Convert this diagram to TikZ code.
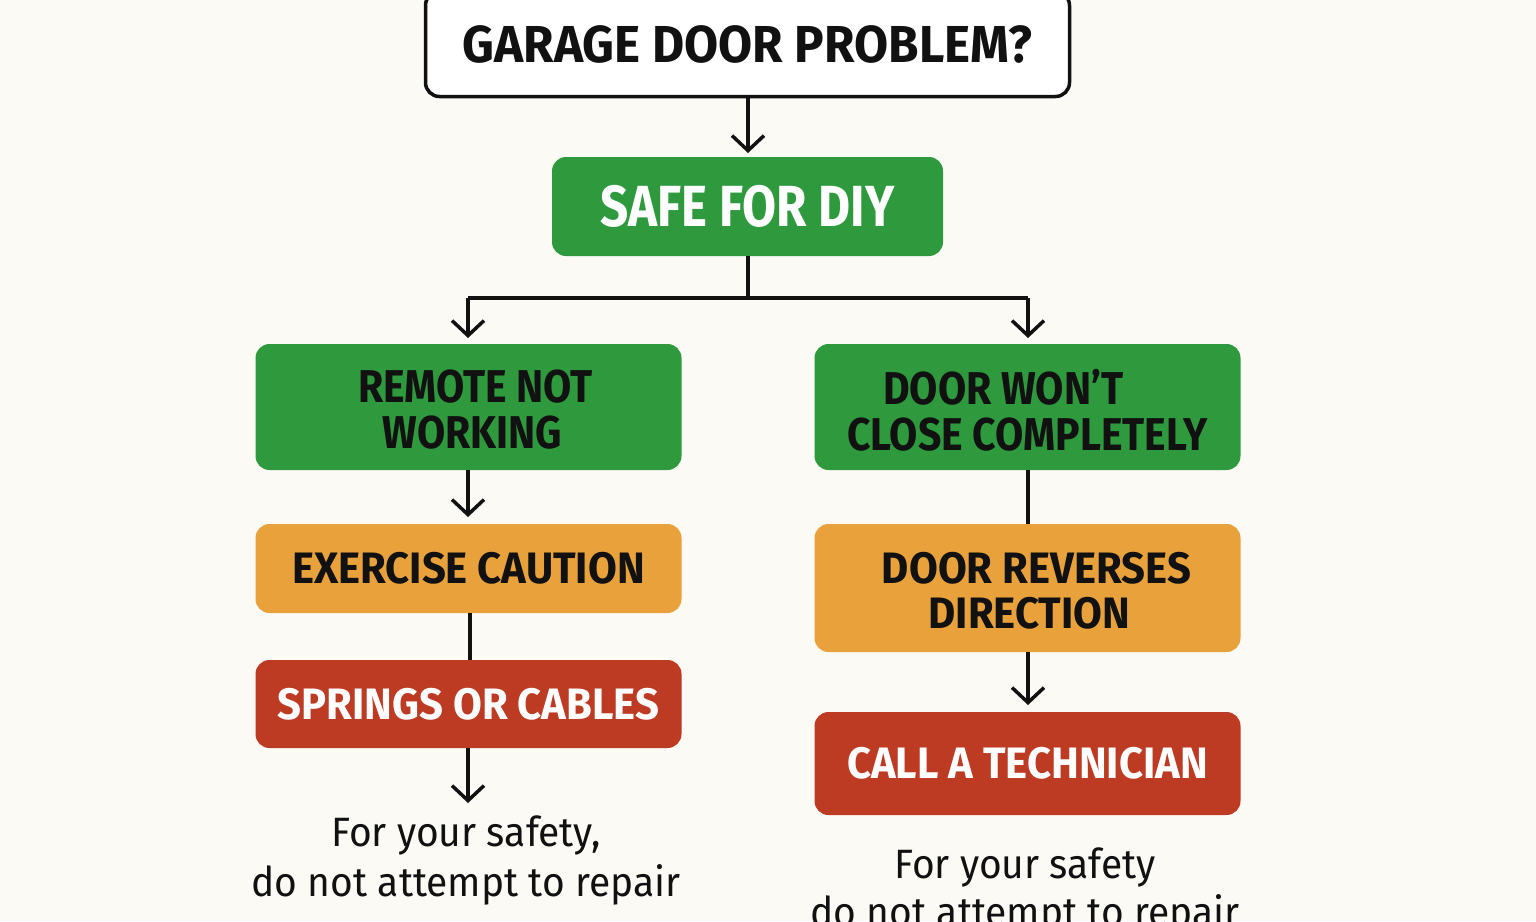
\documentclass[tikz,border=0pt]{standalone}
\usepackage{fontspec}
\setmainfont{Fira Sans}[FakeStretch=0.95]
\newfontfamily\fgreen{Fira Sans}[FakeStretch=0.89]
\newfontfamily\fsafe{Fira Sans}[FakeStretch=0.85]
\usetikzlibrary{arrows.meta}
\definecolor{bgc}{HTML}{FBFAF5}
\definecolor{gboxc}{HTML}{2E9A3D}
\definecolor{oboxc}{HTML}{E9A23B}
\definecolor{rboxc}{HTML}{BD3A23}
\definecolor{inkc}{HTML}{111111}
\newcommand{\lowtext}[1]{\raisebox{-3pt}[\height][\depth]{\parbox{400pt}{\centering #1}}}
\tikzset{
  box/.style={rectangle, rounded corners=14pt, inner sep=0pt, align=center, font=\bfseries},
  titlebox/.style={box, draw=inkc, line width=3.5pt, fill=white, minimum width=644pt, minimum height=105pt, font=\bfseries\fontsize{52}{54}\selectfont, text=inkc},
  greenbox/.style={box, fill=gboxc, minimum width=426pt},
  orangebox/.style={box, fill=oboxc, minimum width=426pt, text=inkc},
  redbox/.style={box, fill=rboxc, minimum width=426pt, text=white},
  note/.style={align=center, inner sep=0pt, text=inkc},
  conn/.style={draw=inkc, line width=3.5pt},
  arr/.style={conn, -{Straight Barb[length=15pt,width=32pt,line width=3.5pt]}}
}
\begin{document}
\begin{tikzpicture}[x=1pt,y=-1pt]
\fill[bgc] (0,0) rectangle (1536,921);
\clip (0,0) rectangle (1536,921);

\node[titlebox] (q) at (747.5,44) {GARAGE DOOR PROBLEM?};
\node[greenbox, minimum width=391pt, minimum height=99pt, text=white, font=\fsafe\bfseries\fontsize{58}{60}\selectfont] (safe) at (747.5,206.5) {SAFE FOR DIY};

\node[greenbox, minimum height=126pt, text=inkc, font=\fgreen\bfseries\fontsize{46}{46}\selectfont] (remote) at (468.5,407) {\lowtext{\hspace*{14pt}REMOTE NOT\\\hspace*{8pt}WORKING}};
\node[greenbox, minimum height=126pt, text=inkc, font=\fgreen\bfseries\fontsize{46}{46}\selectfont] (door) at (1027.5,407) {\lowtext{DOOR WON’T\kern48pt\\CLOSE COMPLETELY}};

\node[orangebox, minimum height=89pt, font=\bfseries\fontsize{44}{45}\selectfont] (caution) at (468.5,568.5) {EXERCISE CAUTION};
\node[orangebox, minimum height=128pt, font=\bfseries\fontsize{44}{45}\selectfont] (reverse) at (1027.5,588) {\lowtext{\hspace*{18pt}DOOR REVERSES\\\hspace*{4pt}DIRECTION}};

\node[redbox, minimum height=88pt, font=\bfseries\fontsize{44}{45}\selectfont] (springs) at (468.5,704) {SPRINGS OR CABLES};
\node[redbox, minimum height=103pt, font=\bfseries\fontsize{44}{45}\selectfont] (tech) at (1027.5,763.5) {CALL A TECHNICIAN};

\node[note, font=\fontsize{41}{50}\selectfont] (noteL) at (466,860) {For your safety,\\do not attempt to repair};
\node[note, font=\fontsize{41}{48}\selectfont] (noteR) at (1025,891) {For your safety\\do not attempt to repair};

\coordinate (split) at (748,298);
\coordinate (splitL) at (468,298);
\coordinate (splitR) at (1028,298);

\draw[arr] (q.south -| 748,0) -- (748,153);
\draw[conn] (safe.south -| split) -- (split);
\draw[conn] (splitL) -- (splitR);
\draw[arr] (splitL) -- (468,338);
\draw[arr] (splitR) -- (1028,338);
\draw[arr] (remote.south -| 468,0) -- (468,517);
\draw[conn] (door.south -| 1028,0) -- (reverse.north -| 1028,0);
\draw[conn] (caution.south -| 470,0) -- (springs.north -| 470,0);
\draw[arr] (reverse.south -| 1028,0) -- (1028,705);
\draw[arr] (springs.south -| 468,0) -- (468,803);
\end{tikzpicture}
\end{document}
